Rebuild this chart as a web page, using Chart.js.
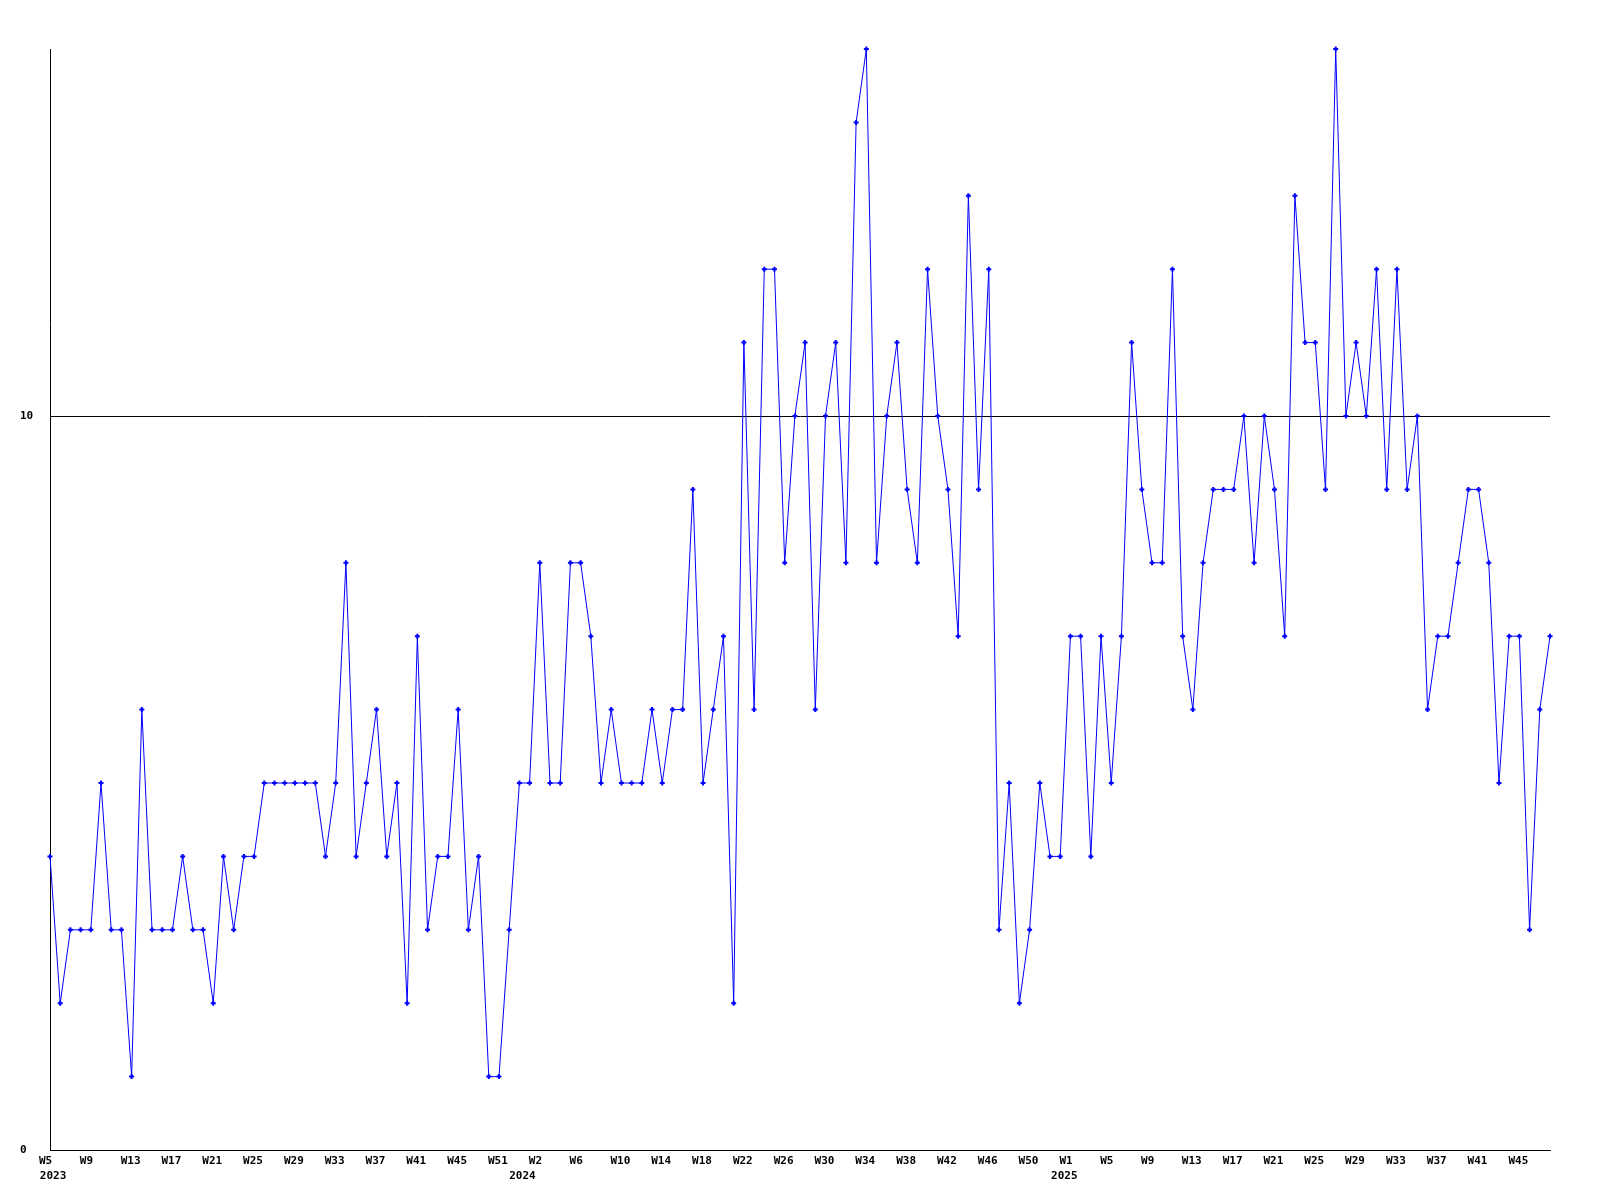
<!DOCTYPE html>
<html>
<head>
<meta charset="utf-8">
<script src="https://cdn.jsdelivr.net/npm/chart.js@4"></script>
<style>
  html, body { margin: 0; padding: 0; background: #fff; }
  #wrap { width: 1600px; height: 1200px; position: relative; }
</style>
</head>
<body>
<div id="wrap"><canvas id="myChart"></canvas></div>
<script>
// weekly counts, 2023 W5 .. 2025 W48
const values = [
    4, 2, 3, 3, 3, 5, 3, 3, 1, 6,
    3, 3, 3, 4, 3, 3, 2, 4, 3, 4,
    4, 5, 5, 5, 5, 5, 5, 4, 5, 8,
    4, 5, 6, 4, 5, 2, 7, 3, 4, 4,
    6, 3, 4, 1, 1, 3, 5, 5, 8, 5,
    5, 8, 8, 7, 5, 6, 5, 5, 5, 6,
    5, 6, 6, 9, 5, 6, 7, 2, 11, 6,
    12, 12, 8, 10, 11, 6, 10, 11, 8, 14,
    15, 8, 10, 11, 9, 8, 12, 10, 9, 7,
    13, 9, 12, 3, 5, 2, 3, 5, 4, 4,
    7, 7, 4, 7, 5, 7, 11, 9, 8, 8,
    12, 7, 6, 8, 9, 9, 9, 10, 8, 10,
    9, 7, 13, 11, 11, 9, 15, 10, 11, 10,
    12, 9, 12, 9, 10, 6, 7, 7, 8, 9,
    9, 8, 5, 7, 7, 3, 6, 7
];

// x axis labels: one every 4 points
const weekTickAt = [0, 4, 8, 12, 16, 20, 24, 28, 32, 36, 40, 44, 48, 52, 56, 60, 64, 68, 72, 76,
    80, 84, 88, 92, 96, 100, 104, 108, 112, 116, 120, 124, 128, 132, 136, 140, 144];
const weekLabels = ["W5", "W9", "W13", "W17", "W21", "W25", "W29", "W33", "W37", "W41", "W45", "W51",
    "W2", "W6", "W10", "W14", "W18", "W22", "W26", "W30", "W34", "W38", "W42", "W46", "W50",
    "W1", "W5", "W9", "W13", "W17", "W21", "W25", "W29", "W33", "W37", "W41", "W45"];
const yearTickAt = [0.3, 46.3, 99.4];
const yearLabels = ["2023", "2024", "2025"];

const yTicks = [0, 10];

const tickFont = { family: "'DejaVu Sans Mono', monospace", size: 11, weight: 'bold', lineHeight: '15px' };

const ctx = document.getElementById('myChart');

const chart = new Chart(ctx, {
    type: "line",
    data: {
        datasets: [
            {
                data: values.map((v, i) => ({ x: i, y: v })),
                borderColor: "#0000ff",
                backgroundColor: "#0000ff",
                borderWidth: 1,
                tension: 0,
                pointStyle: "cross",
                pointRadius: 2.5,
                pointBorderWidth: 2,
                pointBorderColor: "#0000ff",
                clip: false,
            },
        ],
    },
    options: {
        responsive: true,
        maintainAspectRatio: false,
        animation: false,
        layout: { padding: { left: 20, right: 50, top: 49, bottom: 0 } },
        plugins: {
            legend: { display: false },
            tooltip: { enabled: false },
        },
        scales: {
            x: {
                type: 'linear',
                min: 0,
                max: values.length - 1,
                weight: 0,
                grid: { display: false, drawTicks: false },
                border: { display: true, color: '#000', width: 1 },
                afterBuildTicks: (s) => { s.ticks = weekTickAt.map(v => ({ value: v })); },
                afterFit: (s) => { s.height = 16; },
                ticks: {
                    autoSkip: false,
                    maxRotation: 0,
                    align: 'start',
                    labelOffset: -11,
                    padding: 4,
                    color: '#000',
                    font: tickFont,
                    callback: (v, i) => weekLabels[i],
                }
            },
            year: {
                type: 'linear',
                position: 'bottom',
                axis: 'x',
                min: 0,
                max: values.length - 1,
                weight: 1,
                grid: { display: false, drawTicks: false },
                border: { display: false },
                afterBuildTicks: (s) => { s.ticks = yearTickAt.map(v => ({ value: v })); },
                afterFit: (s) => { s.height = 34; },
                ticks: {
                    autoSkip: false,
                    maxRotation: 0,
                    padding: 3,
                    color: '#000',
                    font: tickFont,
                    callback: (v, i) => yearLabels[i],
                }
            },
            y: {
                min: 0,
                max: 15,
                grid: { color: '#000', lineWidth: 1, drawTicks: false },
                border: { display: true, color: '#000', width: 1 },
                afterBuildTicks: (s) => { s.ticks = yTicks.map(v => ({ value: v })); },
                afterFit: (s) => { s.width = 30; },
                ticks: {
                    crossAlign: 'far',
                    color: '#000',
                    font: tickFont,
                    callback: (v) => String(v),
                }
            }
        }
    },
});
</script>
</body>
</html>
